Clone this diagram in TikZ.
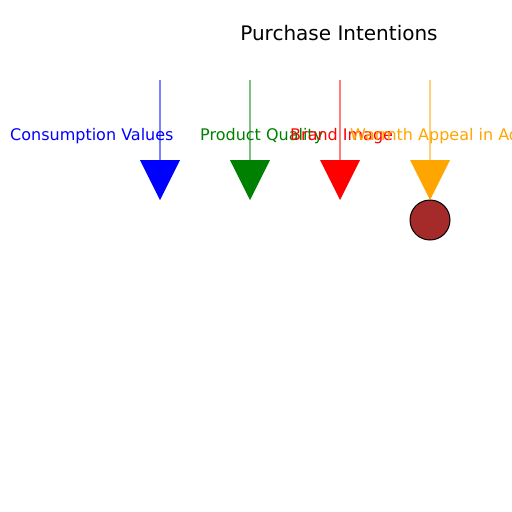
\documentclass[tikz,border=0pt]{standalone}
\usepackage{fontspec}
\setmainfont{DejaVu Sans}
\usepackage{xcolor}
\usetikzlibrary{positioning}
\definecolor{qualgreen}{HTML}{008000}
\definecolor{warmorange}{HTML}{FFA500}
\definecolor{dotbrown}{HTML}{A52A2A}

\begin{document}
\begin{tikzpicture}[
    x=1pt, y=-1pt,
    lbl/.style={anchor=base west, inner sep=0pt, font=\fontsize{16}{19}\selectfont, text=#1},
    stem/.style={draw=#1, draw opacity=0.5, line width=1.5pt},
    tipfill/.style={fill=#1},
    dot/.style={circle, draw=black, fill=dotbrown, line width=1pt, minimum size=40pt, inner sep=0pt}
]
    % Canvas
    \clip (0,0) rectangle (512,512);
    \fill[white] (0,0) rectangle (512,512);

    % Title
    \node[anchor=base, inner sep=0pt, font=\fontsize{20}{24}\selectfont] (title) at (339,40) {Purchase Intentions};

    % Labels
    \node[lbl=blue]       (cvlabel) at (10,140)  {Consumption Values};
    \node[lbl=qualgreen]  (pqlabel) at (200,140) {Product Quality};
    \node[lbl=red]        (bilabel) at (290,140) {Brand Image};
    \node[lbl=warmorange] (walabel) at (350,140) {Warmth Appeal in Advertising};

    % Stems and arrow heads
    \foreach \x/\c/\n in {160/blue/cv, 250/qualgreen/pq, 340/red/bi, 430/warmorange/wa} {
        \coordinate (\n top) at (\x,80);
        \coordinate (\n base) at (\x,160);
        \draw[stem=\c] (\n top) -- (\n base);
        \fill[tipfill=\c] (\x-20,160) -- (\x+20,160) -- (\x,200) -- cycle;
    }

    % Dot below the last arrow
    \node[dot] (wadot) at (430,220) {};

\end{tikzpicture}
\end{document}
